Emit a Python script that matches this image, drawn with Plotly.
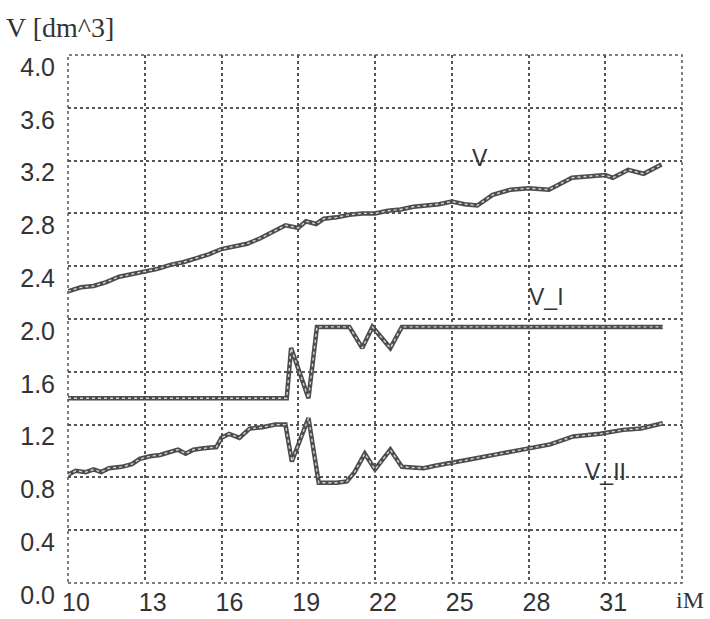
import plotly.graph_objects as go

# ---- data ----
v_x = [10.0, 10.5, 11.0, 11.5, 12.0, 12.5, 13.0, 13.5, 14.0, 14.5, 15.0, 15.5, 16.0, 16.5,
       17.0, 17.5, 18.0, 18.5, 19.0, 19.3, 19.7, 20.0, 20.5, 21.0, 21.5, 22.0, 22.5, 23.0,
       23.5, 24.0, 24.5, 25.0, 25.5, 26.0, 26.6, 27.3, 28.0, 28.8, 29.3, 29.7, 30.3, 31.0,
       31.3, 31.9, 32.5, 33.2]
v_y = [2.21, 2.24, 2.25, 2.28, 2.32, 2.34, 2.36, 2.38, 2.41, 2.43, 2.46, 2.49, 2.53, 2.55,
       2.57, 2.61, 2.66, 2.71, 2.69, 2.74, 2.72, 2.76, 2.77, 2.79, 2.80, 2.80, 2.82, 2.83,
       2.85, 2.86, 2.87, 2.89, 2.87, 2.86, 2.94, 2.98, 2.99, 2.98, 3.03, 3.07, 3.08, 3.09,
       3.07, 3.13, 3.10, 3.17]

v1_x = [10.0, 18.55, 18.72, 19.4, 19.73, 21.0, 21.5, 21.9, 22.6, 23.05, 33.25]
v1_y = [1.40, 1.40, 1.78, 1.40, 1.94, 1.94, 1.78, 1.94, 1.78, 1.94, 1.94]

v2_x = [10.0, 10.3, 10.7, 11.0, 11.3, 11.6, 12.1, 12.5, 12.8, 13.2, 13.6, 14.0, 14.3, 14.6,
        14.9, 15.3, 15.8, 16.0, 16.3, 16.7, 17.1, 17.6, 18.1, 18.5, 18.75, 19.4, 19.8, 20.5,
        20.9, 21.2, 21.6, 22.0, 22.6, 23.05, 23.9, 24.4, 25.05, 25.8, 26.9, 28.0, 28.85,
        29.75, 30.8, 31.7, 32.4, 33.25]
v2_y = [0.82, 0.85, 0.84, 0.86, 0.84, 0.87, 0.88, 0.90, 0.94, 0.96, 0.97, 0.99, 1.01, 0.98,
        1.01, 1.02, 1.03, 1.10, 1.13, 1.10, 1.17, 1.18, 1.20, 1.20, 0.92, 1.25, 0.76, 0.76,
        0.77, 0.84, 0.98, 0.86, 1.01, 0.88, 0.87, 0.89, 0.91, 0.94, 0.98, 1.02, 1.05,
        1.11, 1.13, 1.16, 1.17, 1.21]

x_tickvals = [10, 13, 16, 19, 22, 25, 28, 31, 34]
x_ticktext = ["10", "13", "16", "19", "22", "25", "28", "31", ""]
y_tickvals = [0.0, 0.4, 0.8, 1.2, 1.6, 2.0, 2.4, 2.8, 3.2, 3.6, 4.0]
y_ticktext = ["0.0", "0.4", "0.8", "1.2", "1.6", "2.0", "2.4", "2.8", "3.2", "3.6", "4.0"]

series = [("V", v_x, v_y), ("V_I", v1_x, v1_y), ("V_II", v2_x, v2_y)]
labels = [("V", 26.1, 3.22), ("V_I", 28.7, 2.17), ("V_II", 31.0, 0.84)]

LINE = "#4d4d4d"
GRID = "#555555"

fig = go.Figure()
for name, xs, ys in series:
    fig.add_trace(go.Scatter(x=xs, y=ys, mode="lines", name=name,
                             line=dict(color=LINE, width=4.5), showlegend=False))
    fig.add_trace(go.Scatter(x=xs, y=ys, mode="lines", name=name,
                             line=dict(color="rgba(255,255,255,0.75)", width=1.4, dash="dot"),
                             showlegend=False, hoverinfo="skip"))

for txt, lx, ly in labels:
    fig.add_annotation(x=lx, y=ly, text=txt, showarrow=False,
                       font=dict(family="Liberation Sans, Arial", size=23, color="#333"))

fig.add_annotation(xref="paper", yref="paper", x=1.0, y=0, xshift=8, yshift=-17,
                   text="iM", showarrow=False, xanchor="center", yanchor="middle",
                   font=dict(family="Liberation Serif, Times New Roman", size=24, color="#333"))
fig.add_annotation(xref="paper", yref="paper", x=0, y=1, xshift=-64, yshift=10,
                   text="V [dm^3]", showarrow=False, xanchor="left", yanchor="bottom",
                   font=dict(family="Liberation Serif, Times New Roman", size=28, color="#333"))

fig.add_shape(type="rect", xref="paper", yref="paper", x0=0, y0=0, x1=1, y1=1,
              line=dict(color=GRID, width=1.5, dash="dot"))

fig.update_xaxes(range=[10, 34], tickvals=x_tickvals, ticktext=x_ticktext,
                 showgrid=True, gridcolor=GRID, gridwidth=1.5, griddash="dot",
                 zeroline=False, showline=False, ticks="", automargin=False,
                 ticklabelshift=8, ticklabelstandoff=2,
                 tickfont=dict(family="Liberation Sans, Arial", size=25, color="#333"))
fig.update_yaxes(range=[0, 4.0], tickvals=y_tickvals, ticktext=y_ticktext,
                 showgrid=True, gridcolor=GRID, gridwidth=1.5, griddash="dot",
                 zeroline=False, showline=False, ticks="", automargin=False,
                 ticklabelshift=12, ticklabelstandoff=12,
                 tickfont=dict(family="Liberation Sans, Arial", size=25, color="#333"))

fig.update_layout(width=710, height=619, margin=dict(l=68, r=28, t=55, b=36),
                  paper_bgcolor="white", plot_bgcolor="white")

fig.write_html("out.html")
